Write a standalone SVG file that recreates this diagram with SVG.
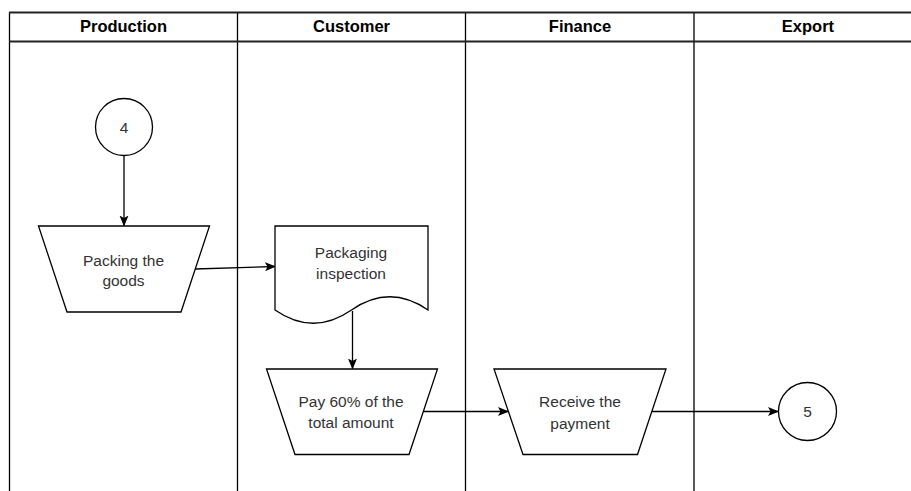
<svg xmlns="http://www.w3.org/2000/svg" width="911" height="491" viewBox="0 0 911 491">
  <style>
    .lane { fill: none; stroke: #000; stroke-width: 1.3; }
    .hdr { fill: none; stroke: #222; stroke-width: 1.8; }
    .head { font-family: "Liberation Sans", Arial, sans-serif; font-size: 16.5px; font-weight: bold; fill: #000; text-anchor: middle; }
    .shape { fill: #fff; stroke: #000; stroke-width: 1.3; }
    .label { font-family: "Liberation Sans", Arial, sans-serif; font-size: 15.5px; fill: #333; text-anchor: middle; }
    .edge { fill: none; stroke: #000; stroke-width: 1.3; }
  </style>
  <defs>
    <marker id="arrow" markerWidth="11" markerHeight="10" refX="10" refY="5" orient="auto" markerUnits="userSpaceOnUse">
      <path d="M0,0.5 L11,5 L0,9.5 L2.5,5 Z" fill="#000"/>
    </marker>
  </defs>

  <rect width="911" height="491" fill="#fff"/>

  <!-- swimlane pool -->
  <g id="pool">
    <line class="lane" x1="9.5" y1="12.5" x2="9.5" y2="491"/>
    <line class="lane" x1="237.5" y1="12.5" x2="237.5" y2="491"/>
    <line class="lane" x1="465.5" y1="12.5" x2="465.5" y2="491"/>
    <line class="lane" x1="694" y1="12.5" x2="694" y2="491"/>
    <line class="hdr" x1="9" y1="12.5" x2="911" y2="12.5"/>
    <line class="hdr" x1="9" y1="41.5" x2="911" y2="41.5"/>
    <text class="head" x="123.5" y="31.5">Production</text>
    <text class="head" x="351.5" y="31.5">Customer</text>
    <text class="head" x="580" y="31.5">Finance</text>
    <text class="head" x="808" y="31.5">Export</text>
  </g>

  <!-- connectors -->
  <g id="connectors">
    <line class="edge" x1="124" y1="155.5" x2="124" y2="225.5" marker-end="url(#arrow)"/>
    <line class="edge" x1="195" y1="269" x2="275" y2="266.5" marker-end="url(#arrow)"/>
    <line class="edge" x1="352.5" y1="311" x2="352.5" y2="368.5" marker-end="url(#arrow)"/>
    <line class="edge" x1="423" y1="411.5" x2="508" y2="411.5" marker-end="url(#arrow)"/>
    <line class="edge" x1="651" y1="411.5" x2="778" y2="411.5" marker-end="url(#arrow)"/>
  </g>

  <!-- off-page connector 4 -->
  <g id="start4">
    <circle class="shape" cx="124" cy="127" r="28.5"/>
    <text class="label" x="124" y="132.5">4</text>
  </g>

  <!-- manual operation: packing -->
  <g id="packing">
    <polygon class="shape" points="38.5,226 209.5,226 181,312 67,312"/>
    <text class="label" x="123.5" y="265.5">Packing the</text>
    <text class="label" x="123.5" y="285.5">goods</text>
  </g>

  <!-- document: packaging inspection -->
  <g id="inspection">
    <path class="shape" d="M275,226 H428 V310 Q389.75,283.5 351.5,310 Q313.25,336.5 275,310 Z"/>
    <text class="label" x="351" y="257.5">Packaging</text>
    <text class="label" x="351" y="278.5">inspection</text>
  </g>

  <!-- manual operation: pay 60% -->
  <g id="pay">
    <polygon class="shape" points="266.5,369 437.5,369 409,454.5 295,454.5"/>
    <text class="label" x="351" y="407">Pay 60% of the</text>
    <text class="label" x="351" y="428">total amount</text>
  </g>

  <!-- manual operation: receive payment -->
  <g id="receive">
    <polygon class="shape" points="494,369 666,369 637.5,454.5 523,454.5"/>
    <text class="label" x="580" y="407">Receive the</text>
    <text class="label" x="580" y="428.5">payment</text>
  </g>

  <!-- off-page connector 5 -->
  <g id="end5">
    <circle class="shape" cx="807.5" cy="411.5" r="29"/>
    <text class="label" x="807.5" y="417">5</text>
  </g>
</svg>
